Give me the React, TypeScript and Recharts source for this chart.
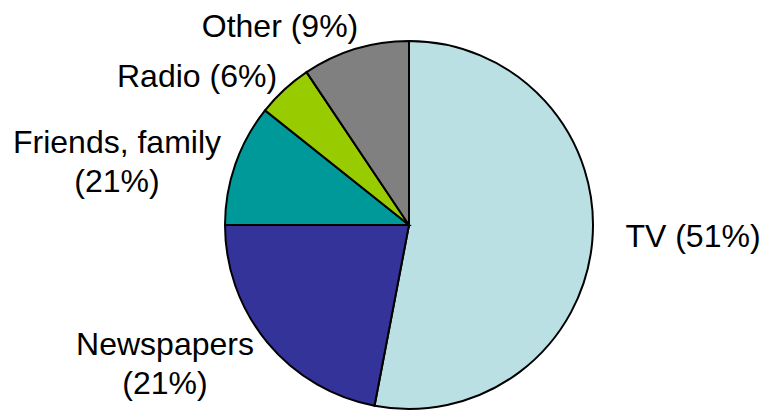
import * as React from "react";
import { Cell, Pie, PieChart } from "recharts";

// slice sizes as drawn in the picture (the printed percentages differ)
const categories = ["TV", "Newspapers", "Friends, family", "Radio", "Other"];
const shares = [53, 22, 10.7, 4.9, 9.4];
const labelTexts = [
  ["TV (51%)"],
  ["Newspapers", "(21%)"],
  ["Friends, family", "(21%)"],
  ["Radio (6%)"],
  ["Other (9%)"],
];

const colors = ["#BBE0E3", "#333399", "#009999", "#99CC00", "#808080"];

// label anchor (centre x, first baseline) relative to the pie centre
const labelOffsets = [
  { dx: 284, dy: 22 },
  { dx: -244, dy: 130 },
  { dx: -292, dy: -72 },
  { dx: -212, dy: -138 },
  { dx: -129, dy: -188 },
];

const data = categories.map((name, i) => ({ name, value: shares[i] }));

const renderLabel = (props: any) => {
  const { cx, cy, index } = props;
  const off = labelOffsets[index];
  const lines = labelTexts[index];
  return (
    <text
      x={cx + off.dx}
      y={cy + off.dy}
      textAnchor="middle"
      fill="#000"
      fontSize={32}
      fontFamily="'Liberation Sans', Arial, sans-serif"
    >
      {lines.map((line, i) => (
        <tspan key={i} x={cx + off.dx} dy={i === 0 ? 0 : 39}>
          {line}
        </tspan>
      ))}
    </text>
  );
};

export default function App() {
  return (
    <div style={{ position: "fixed", left: 0, top: 0, background: "#fff" }}>
      <PieChart width={768} height={412} margin={{ top: 0, right: 0, bottom: 0, left: 0 }}>
        <Pie
          data={data}
          dataKey="value"
          nameKey="name"
          cx={409}
          cy={225}
          outerRadius={184}
          startAngle={90}
          endAngle={-270}
          stroke="#000"
          strokeWidth={2}
          label={renderLabel}
          labelLine={false}
          isAnimationActive={false}
        >
          {data.map((d, i) => (
            <Cell key={d.name} fill={colors[i]} />
          ))}
        </Pie>
      </PieChart>
    </div>
  );
}
